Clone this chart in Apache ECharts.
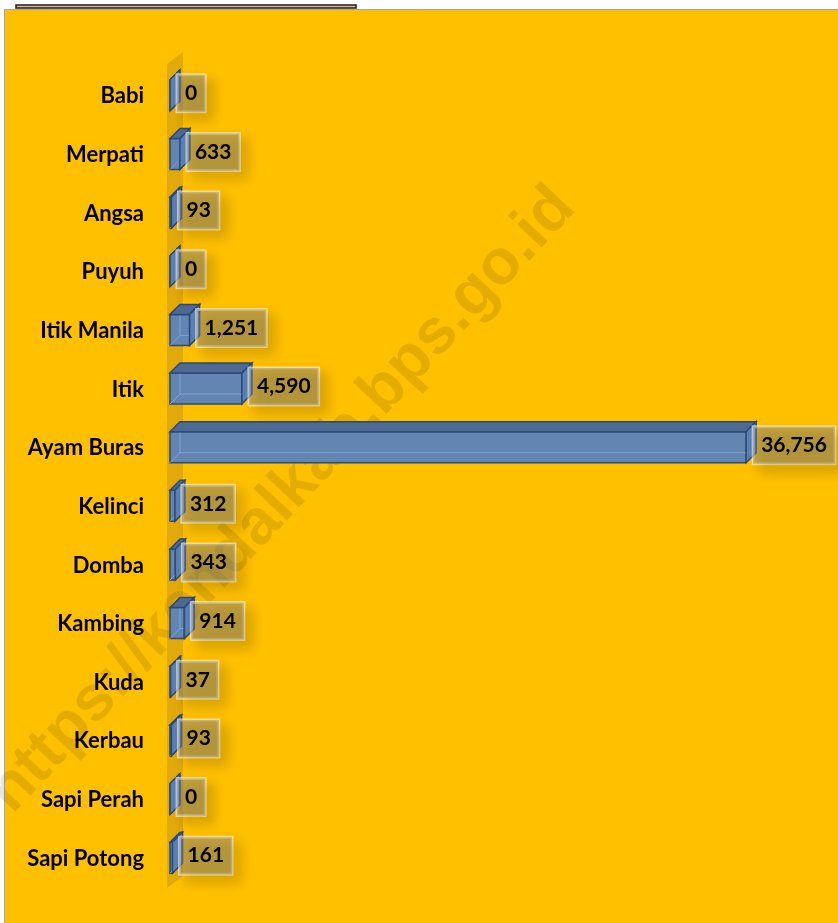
<!DOCTYPE html>
<html><head><meta charset="utf-8">
<script src="https://cdn.jsdelivr.net/npm/echarts@6/dist/echarts.min.js"></script>
<style>html,body{margin:0;padding:0;background:#fff}#c{width:838px;height:923px}</style>
</head><body><div id="c"></div>
<script>
const categories = ['Babi','Merpati','Angsa','Puyuh','Itik Manila','Itik','Ayam Buras','Kelinci','Domba','Kambing','Kuda','Kerbau','Sapi Perah','Sapi Potong'];
const values = [0, 633, 93, 0, 1251, 4590, 36756, 312, 343, 914, 37, 93, 0, 161];
const axisMax = 40000;
const watermarkText = 'https://kendalkab.bps.go.id';

const chart = echarts.init(document.getElementById('c'), null, {renderer: 'canvas'});
const DX = 10, DY = 10, BAR_H = 31;
const EDGE = '#2B4A78';

function renderWall(params, api) {
  const cs = params.coordSys;
  const x = cs.x, y = cs.y, h = cs.height;
  return {
    type: 'polygon',
    shape: {points: [[x - 3, y + h], [x + 13, y + h - 12], [x + 13, y - 15], [x - 3, y - 3]]},
    style: {fill: 'rgba(150,110,40,0.28)'}
  };
}

function renderBar(params, api) {
  const v = api.value(0), c = api.value(1);
  const p0 = api.coord([0, c]), p1 = api.coord([v, c]);
  const x0 = p0[0], x1 = p1[0], yc = p0[1] - 1;
  const t = yc - BAR_H / 2, b = yc + BAR_H / 2;
  const label = values[params.dataIndex].toLocaleString('en-US');
  return {
    type: 'group',
    children: [
      {type: 'rect', shape: {x: x0, y: t, width: x1 - x0, height: BAR_H},
        style: {fill: '#6285B2', stroke: EDGE, lineWidth: 1.5}},
      {type: 'polyline', shape: {points: [[x0, b], [x0 + DX, b - DY], [x1 + DX, b - DY]]},
        style: {stroke: '#7EA2D6', lineWidth: 1, fill: null}},
      {type: 'polyline', shape: {points: [[x0 + DX, t - DY], [x0 + DX, b - DY]]},
        style: {stroke: '#7EA2D6', lineWidth: 1, fill: null}},
      {type: 'polygon', shape: {points: [[x0, t], [x0 + DX, t - DY], [x1 + DX, t - DY], [x1, t]]},
        style: {fill: '#4D6A93', stroke: EDGE, lineWidth: 1.5}},
      {type: 'polygon', shape: {points: [[x1, t], [x1 + DX, t - DY], [x1 + DX, b - DY], [x1, b]]},
        style: {fill: '#5B80B2', stroke: EDGE, lineWidth: 1.5}},
      {type: 'text', z2: 10,
        style: {
          text: label, x: x1 + 7, y: yc - 2, align: 'left', verticalAlign: 'middle',
          font: 'bold 21px Lato', fill: '#000',
          backgroundColor: 'rgba(128,128,128,0.45)',
          borderColor: 'rgba(255,255,255,0.55)', borderWidth: 1.5,
          padding: [6, 8], lineHeight: 25,
          shadowColor: 'rgba(0,0,0,0.3)', shadowBlur: 12, shadowOffsetX: 7, shadowOffsetY: 7
        }}
    ]
  };
}

chart.setOption({
  backgroundColor: '#fff',
  animation: false,
  graphic: [
    {type: 'rect', z: -10, shape: {x: 4.5, y: 9.5, width: 840, height: 920},
      style: {fill: '#FFC000', stroke: '#A6A6A6', lineWidth: 1}},
    {type: 'rect', z: -9, shape: {x: 16, y: 5, width: 340, height: 3},
      style: {fill: '#E8B493', stroke: '#1E1E1E', lineWidth: 1.5}},
    {type: 'text', z: -8, x: 282, y: 500, rotation: 47 * Math.PI / 180,
      style: {text: watermarkText, font: 'bold 64px "Liberation Sans"', fill: 'rgba(0,0,0,0.1)',
        align: 'center', verticalAlign: 'middle'}}
  ],
  grid: {left: 170, right: 41, top: 67, bottom: 35, containLabel: false},
  xAxis: {type: 'value', min: 0, max: axisMax, show: false},
  yAxis: {
    type: 'category', data: categories, inverse: true,
    axisLine: {show: false}, axisTick: {show: false}, splitLine: {show: false},
    axisLabel: {margin: 26, color: '#000', fontFamily: 'Lato', fontWeight: 'bold', fontSize: 22}
  },
  series: [
    {type: 'custom', renderItem: renderWall, data: [[0, 0]], silent: true, encode: {x: 0, y: 1}},
    {type: 'custom', renderItem: renderBar, encode: {x: 0, y: 1},
      data: values.map((v, i) => [v, i])}
  ]
});
</script></body></html>
